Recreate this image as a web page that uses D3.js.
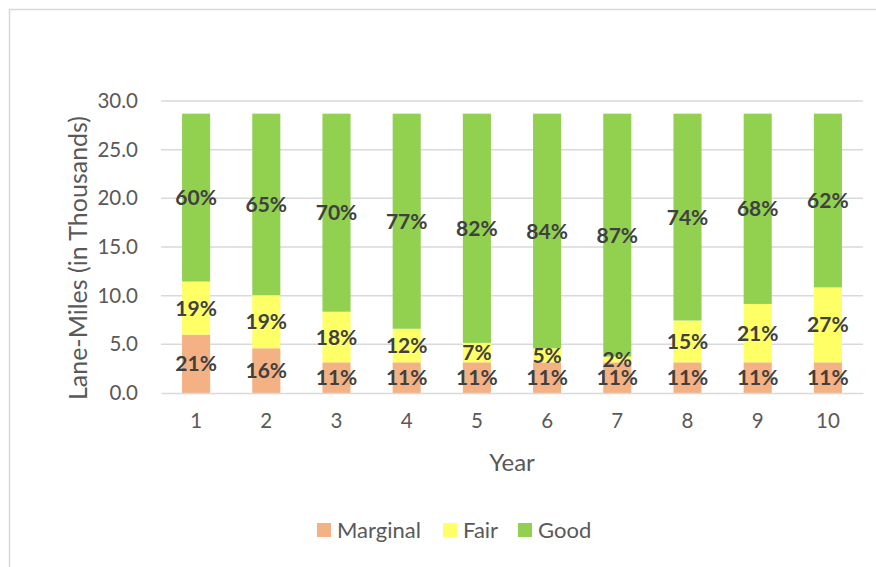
<!DOCTYPE html>
<html>
<head>
<meta charset="utf-8">
<script src="https://cdn.jsdelivr.net/npm/d3@7"></script>
<style>
  body { margin: 0; background: #fff; }
  text { font-family: Lato, "Open Sans", sans-serif; }
</style>
</head>
<body>
<div id="chart"></div>
<script>
// Lane-miles (thousands) per year
const years = ["1", "2", "3", "4", "5", "6", "7", "8", "9", "10"];
const marginal = [6.0, 4.6, 3.15, 3.15, 3.15, 3.15, 3.15, 3.15, 3.15, 3.15];
const fair = [5.45, 5.45, 5.2, 3.45, 2.0, 1.45, 0.6, 4.3, 6.0, 7.7];
const good = [17.25, 18.65, 20.35, 22.1, 23.55, 24.1, 24.95, 21.25, 19.55, 17.85];
// data label text shown on each segment
const marginalPct = ["21%", "16%", "11%", "11%", "11%", "11%", "11%", "11%", "11%", "11%"];
const fairPct = ["19%", "19%", "18%", "12%", "7%", "5%", "2%", "15%", "21%", "27%"];
const goodPct = ["60%", "65%", "70%", "77%", "82%", "84%", "87%", "74%", "68%", "62%"];
const yTicks = [0, 5, 10, 15, 20, 25, 30];

const seriesNames = ["Marginal", "Fair", "Good"];
const colors = {Marginal: "#f4b183", Fair: "#ffff66", Good: "#92d050"};
const pctLabels = {Marginal: marginalPct, Fair: fairPct, Good: goodPct};

const W = 876, H = 567;
const margin = {top: 101, right: 13, bottom: 174, left: 161},
    width = W - margin.left - margin.right,
    height = H - margin.top - margin.bottom;

const root = d3.select("#chart")
    .append("svg")
    .attr("width", W)
    .attr("height", H);

// chart area border (right/bottom edges fall outside the picture)
root.append("rect")
    .attr("x", 9.5).attr("y", 9.5)
    .attr("width", 900).attr("height", 600)
    .attr("fill", "none")
    .attr("stroke", "#d9d9d9")
    .attr("stroke-width", 1.5);

const svg = root.append("g")
    .attr("transform", `translate(${margin.left}, ${margin.top})`);

const rows = years.map((yr, i) => ({year: yr, i: i, Marginal: marginal[i], Fair: fair[i], Good: good[i]}));
const stacked = d3.stack().keys(seriesNames)(rows);

const x = d3.scaleBand()
    .domain(years)
    .range([0, width])
    .paddingInner(0.6)
    .paddingOuter(0.3);

const y = d3.scaleLinear()
    .domain([0, 30])
    .range([height, 0]);

// gridlines
svg.append("g")
    .selectAll("line")
    .data(yTicks.filter(d => d > 0))
    .join("line")
    .attr("x1", 0).attr("x2", width)
    .attr("y1", d => y(d)).attr("y2", d => y(d))
    .attr("stroke", "#d9d9d9")
    .attr("stroke-width", 1.5);

// Y axis
const yAxis = svg.append("g")
    .call(d3.axisLeft(y).tickValues(yTicks).tickFormat(d3.format(".1f")).tickSize(0).tickPadding(23));
yAxis.select(".domain").remove();
yAxis.selectAll("text")
    .attr("fill", "#595959")
    .style("font-size", "20.5px")
    .style("font-family", "Lato, sans-serif");

// bars
svg.append("g")
    .selectAll("g")
    .data(stacked)
    .join("g")
      .attr("fill", d => colors[d.key])
    .selectAll("rect")
    .data(d => d)
    .join("rect")
      .attr("x", d => x(d.data.year))
      .attr("y", d => y(d[1]))
      .attr("width", x.bandwidth())
      .attr("height", d => y(d[0]) - y(d[1]));

// X axis
const xAxis = svg.append("g")
    .attr("transform", `translate(0, ${height})`)
    .call(d3.axisBottom(x).tickSize(0).tickPadding(20));
xAxis.select(".domain")
    .attr("stroke", "#d9d9d9")
    .attr("stroke-width", 1.5);
xAxis.selectAll("text")
    .attr("fill", "#595959")
    .style("font-size", "20.5px")
    .style("font-family", "Lato, sans-serif");

// data labels
svg.append("g")
    .selectAll("g")
    .data(stacked)
    .join("g")
    .each(function (s) {
        d3.select(this).selectAll("text")
            .data(s)
            .join("text")
            .attr("x", d => x(d.data.year) + x.bandwidth() / 2)
            .attr("y", d => y((d[0] + d[1]) / 2))
            .attr("dy", "0.36em")
            .attr("text-anchor", "middle")
            .attr("fill", "#404040")
            .style("font-size", "21px")
            .style("font-weight", "bold")
            .text(d => pctLabels[s.key][d.data.i]);
    });

// axis titles
svg.append("text")
    .attr("text-anchor", "middle")
    .attr("transform", `translate(${-83}, ${height / 2 + 11}) rotate(-90)`)
    .attr("dy", "0.35em")
    .attr("fill", "#595959")
    .style("font-size", "25px")
    .text("Lane-Miles (in Thousands)");

svg.append("text")
    .attr("text-anchor", "middle")
    .attr("x", width / 2)
    .attr("y", height + 78)
    .attr("fill", "#595959")
    .style("font-size", "24px")
    .text("Year");

// legend
const legendX = [317, 443, 518];
const legend = root.append("g")
    .selectAll("g")
    .data(seriesNames)
    .join("g")
    .attr("transform", (d, i) => `translate(${legendX[i]}, 523)`);
legend.append("rect")
    .attr("width", 14).attr("height", 14)
    .attr("fill", d => colors[d]);
legend.append("text")
    .attr("x", 20).attr("y", 7)
    .attr("dy", "0.35em")
    .attr("fill", "#595959")
    .style("font-size", "22px")
    .text(d => d);
</script>
</body>
</html>
